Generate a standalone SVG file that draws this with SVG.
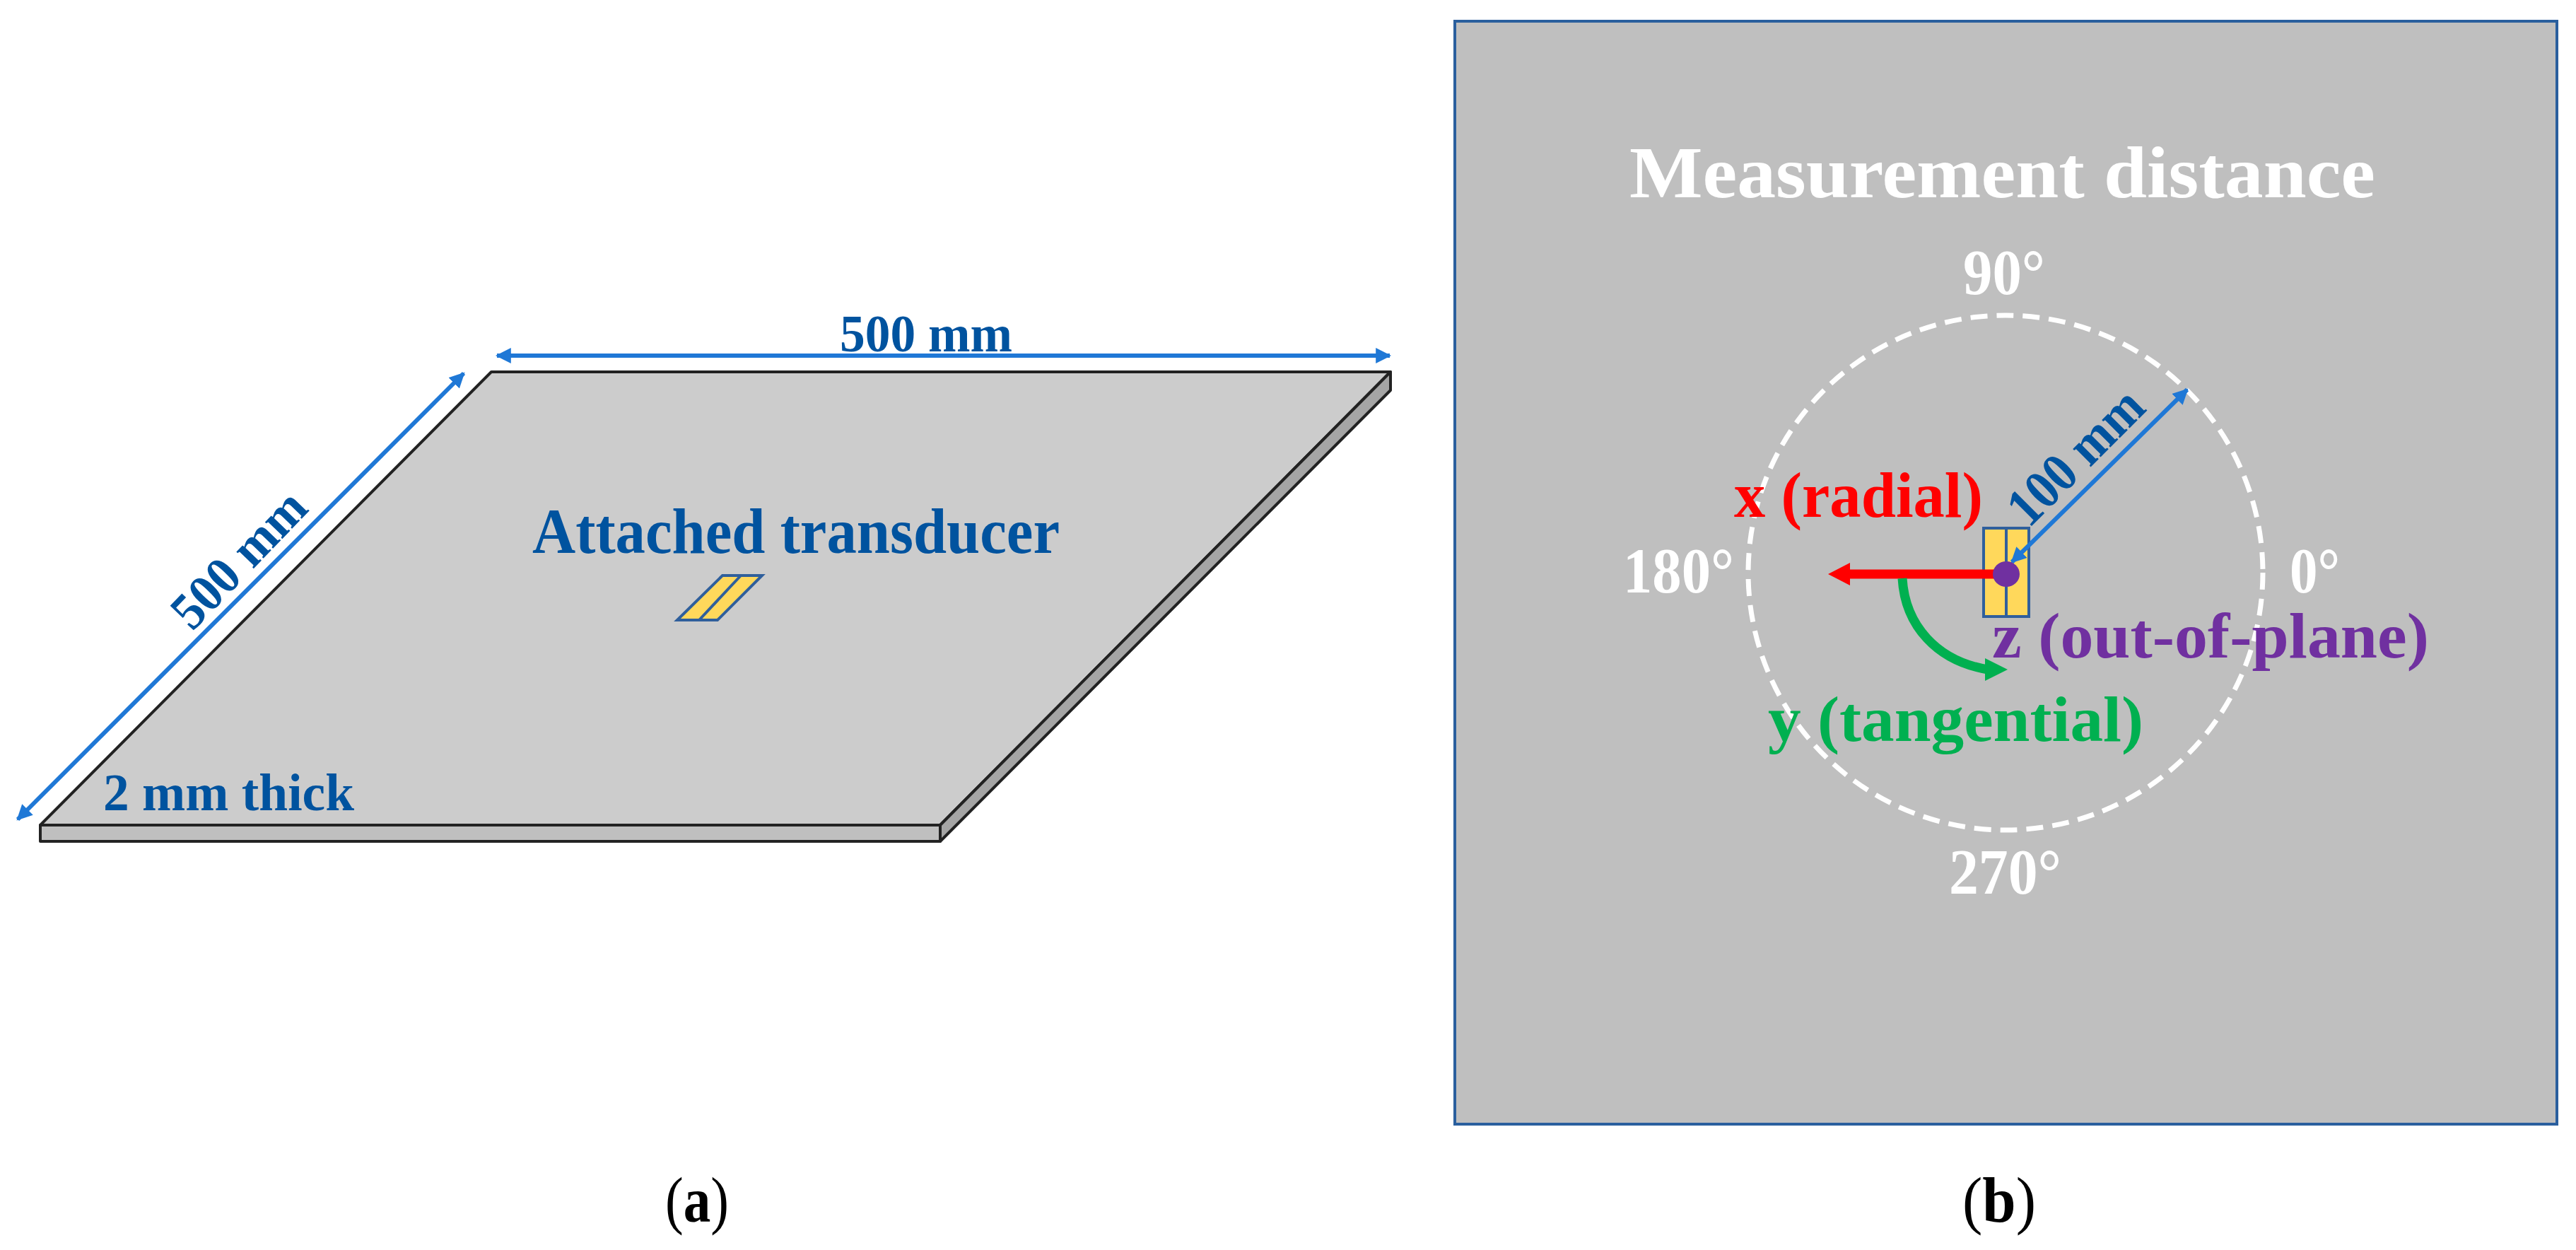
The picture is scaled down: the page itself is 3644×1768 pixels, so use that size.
<svg xmlns="http://www.w3.org/2000/svg" width="3644" height="1768" viewBox="0 0 3644 1768">
<style>
text{font-family:"Liberation Serif",serif;font-weight:700}
.b{fill:#00539f}
.w{fill:#fff}
.t{fill:#ffd85b;stroke:#2f5f9c;stroke-width:4}
.e{stroke:#222;stroke-width:4;stroke-linejoin:round}
.d{fill:none;stroke:#1f78d6;stroke-width:6}
</style>
<defs>
<marker id="ah" viewBox="0 0 10 10" refX="9" refY="5" markerWidth="22" markerHeight="22" markerUnits="userSpaceOnUse" orient="auto-start-reverse"><path d="M0 0L10 5L0 10z" fill="#1f78d6"/></marker>
</defs>
<rect width="3644" height="1768" fill="#fff"/>
<g id="plate">
<path class="e" d="M57 1167L695 526H1967L1330 1167z" fill="#ccc"/>
<path class="e" d="M57 1167H1330V1190H57z" fill="#bfbfbf"/>
<path class="e" d="M1330 1167L1967 526V552L1330 1190z" fill="#a5a5a5"/>
</g>
<g id="transducer-a">
<path class="t" d="M1022 814H1078L1015 877H958z"/>
<path class="t" d="M1048 814L989 877" fill="none"/>
</g>
<g id="panel-b">
<rect x="2058" y="30" width="1559" height="1560" fill="#bfbfbf" stroke="#2a5f9e" stroke-width="4"/>
<circle cx="2837" cy="810" r="364" fill="none" stroke="#fff" stroke-width="7" stroke-dasharray="24 13"/>
</g>
<g id="transducer-b">
<rect class="t" x="2806" y="747" width="64" height="125"/>
<path class="t" d="M2838 747V872" fill="none"/>
</g>
<g id="connectors">
<path class="d" d="M703 503H1966" marker-start="url(#ah)" marker-end="url(#ah)"/>
<path class="d" d="M25 1159L656 528" marker-start="url(#ah)" marker-end="url(#ah)"/>
<path class="d" d="M2846 795L3094 551" stroke-width="5" marker-start="url(#ah)" marker-end="url(#ah)"/>
<path d="M2830 812H2612" fill="none" stroke="#f00" stroke-width="13"/>
<path d="M2586 812L2617 796V828z" fill="#f00"/>
<path d="M2691 818C2695 885 2740 935 2812 947" fill="none" stroke="#00b050" stroke-width="13"/>
<path d="M2840 947L2808 931V963z" fill="#00b050"/>
</g>
<g id="axis-origin"><ellipse cx="2838" cy="812" rx="19" ry="18" fill="#7030a0"/></g>
<g id="labels">
<text class="b" x="753" y="782" font-size="90" textLength="746" lengthAdjust="spacingAndGlyphs">Attached transducer</text>
<text class="b" x="1188" y="497" font-size="74" textLength="244" lengthAdjust="spacingAndGlyphs">500 mm</text>
<text class="b" x="146" y="1146" font-size="74" textLength="355" lengthAdjust="spacingAndGlyphs">2 mm thick</text>
<text class="b" transform="translate(272 894) rotate(-46)" font-size="74" textLength="240" lengthAdjust="spacingAndGlyphs">500 mm</text>
<text class="w" x="2305" y="279" font-size="104" textLength="1055" lengthAdjust="spacingAndGlyphs">Measurement distance</text>
<text class="w" x="2777" y="416" font-size="90" textLength="116" lengthAdjust="spacingAndGlyphs">90°</text>
<text class="w" x="2296" y="838" font-size="90" textLength="157" lengthAdjust="spacingAndGlyphs">180°</text>
<text class="w" x="3239" y="838" font-size="90" textLength="71" lengthAdjust="spacingAndGlyphs">0°</text>
<text class="w" x="2757" y="1264" font-size="90" textLength="159" lengthAdjust="spacingAndGlyphs">270°</text>
<text x="2453" y="731" font-size="90" fill="#f00" textLength="352" lengthAdjust="spacingAndGlyphs">x (radial)</text>
<text x="2818" y="930" font-size="90" fill="#7030a0" textLength="618" lengthAdjust="spacingAndGlyphs">z (out-of-plane)</text>
<text x="2501" y="1048" font-size="90" fill="#00b050" textLength="531" lengthAdjust="spacingAndGlyphs">y (tangential)</text>
<text class="b" transform="translate(2870 748) rotate(-45)" font-size="78" textLength="238" lengthAdjust="spacingAndGlyphs">100 mm</text>
<text x="941" y="1728" font-size="90" fill="#000" textLength="90" lengthAdjust="spacingAndGlyphs" style="font-weight:400">(<tspan style="font-weight:700">a</tspan>)</text>
<text x="2776" y="1728" font-size="90" fill="#000" textLength="104" lengthAdjust="spacingAndGlyphs" style="font-weight:400">(<tspan style="font-weight:700">b</tspan>)</text>
</g>
</svg>
